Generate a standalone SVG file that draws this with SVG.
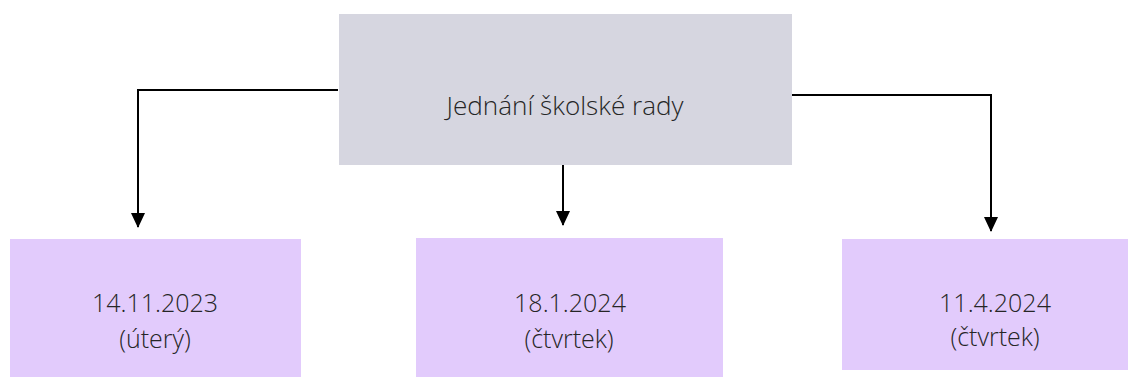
<svg xmlns="http://www.w3.org/2000/svg" width="1130" height="377" viewBox="0 0 1130 377">
<style>
.top{fill:#d6d6e0}
.date{fill:#e2cbfc}
.t{font-family:"Open Sans","Liberation Sans",sans-serif;font-size:25px;font-weight:300;fill:#262626;text-anchor:middle}
.c{fill:none;stroke:#000;stroke-width:2;marker-end:url(#ah)}
</style>
<defs>
<marker id="ah" viewBox="0 0 15 14" refX="14" refY="7" markerWidth="15" markerHeight="14" markerUnits="userSpaceOnUse" orient="auto">
<path d="M0,0 L15,7 L0,14 Z" fill="#000"/>
</marker>
</defs>
<rect width="1130" height="377" fill="#fff"/>
<g id="connectors">
<path class="c" d="M338,90 H138 V227"/>
<path class="c" d="M563,165 V225"/>
<path class="c" d="M792,95 H991 V231"/>
</g>
<g id="node-top">
<rect class="top" x="339" y="14" width="453" height="151"/>
<text class="t" x="565" y="115" textLength="237" lengthAdjust="spacingAndGlyphs">Jednání školské rady</text>
</g>
<g id="node-1">
<rect class="date" x="10" y="239" width="291" height="138"/>
<text class="t" x="155" y="312">14.11.2023</text>
<text class="t" x="155" y="348">(úterý)</text>
</g>
<g id="node-2">
<rect class="date" x="416" y="238" width="307" height="139"/>
<text class="t" x="570" y="312">18.1.2024</text>
<text class="t" x="569" y="348">(čtvrtek)</text>
</g>
<g id="node-3">
<rect class="date" x="842" y="239" width="286" height="131"/>
<text class="t" x="995" y="312">11.4.2024</text>
<text class="t" x="995" y="346">(čtvrtek)</text>
</g>
</svg>
